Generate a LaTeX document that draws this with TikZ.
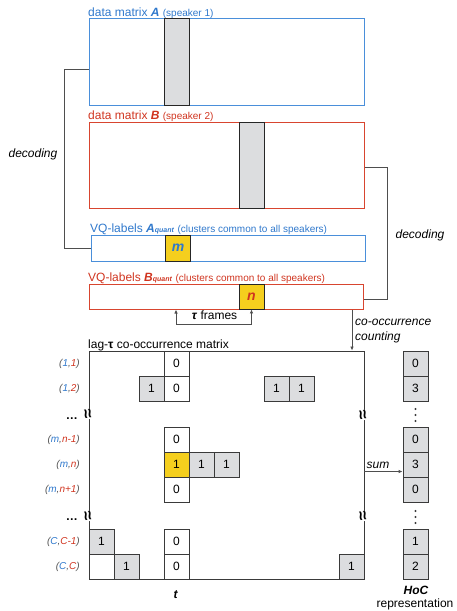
\documentclass[tikz,border=0pt]{standalone}
\usepackage{fontspec}
\setmainfont{Liberation Sans}
\usetikzlibrary{arrows.meta}
\definecolor{ablue}{HTML}{2F78CC}
\definecolor{bred}{HTML}{D0341F}
\definecolor{aframe}{HTML}{4A8FDA}
\definecolor{bframe}{HTML}{D8452F}
\definecolor{cgray}{HTML}{DCDDDF}
\definecolor{qyel}{HTML}{F5CF1E}
\definecolor{lblgray}{HTML}{555555}
\definecolor{lncol}{HTML}{3A3A3A}
\newcommand{\fs}[1]{\fontsize{#1}{#1}\selectfont}
\newcommand{\rl}[2]{\textit{(\textcolor{ablue}{#1},\textcolor{bred}{#2})}}
\begin{document}
\begin{tikzpicture}[x=1pt,y=-1pt,
  cell/.style={draw=lncol, line width=0.8pt, minimum width=25pt, minimum height=25pt, inner sep=0pt, font=\fs{12}},
  gcell/.style={cell, fill=cgray},
  ycell/.style={cell, fill=qyel},
  hcell/.style={gcell},
  col/.style={draw=black!85, line width=0.8pt, fill=cgray, minimum width=25pt, inner sep=0pt},
  conn/.style={draw=lncol!90, line width=0.8pt},
  arr/.style={conn, -{Latex[length=4pt,width=3.5pt]}},
  rowlbl/.style={anchor=east, text=lblgray, font=\fs{10}, inner sep=0pt},
  brk/.style={fill=white, inner sep=0.3pt, rotate=100, font=\fs{17}\bfseries},
  lbl/.style={anchor=base west, inner sep=0pt, font=\fs{12}}
]
\useasboundingbox (0,0) rectangle (456,611);

% data matrix A
\node[draw=aframe, line width=1pt, minimum width=275pt, minimum height=87pt, inner sep=0pt] (A) at (226.5,61.5) {};
\node[col, minimum height=87pt] (Acol) at (176.5,61.5) {};
\node[lbl, text=ablue] (Alab) at (88,16) {data matrix \textbf{\textit{A}} {\fs{10}(speaker 1)}};

% data matrix B
\node[draw=bframe, line width=1pt, minimum width=275pt, minimum height=86pt, inner sep=0pt] (B) at (226.5,165) {};
\node[col, minimum height=86pt] (Bcol) at (251.5,165) {};
\node[lbl, text=bred] (Blab) at (88,119.5) {data matrix \textbf{\textit{B}} {\fs{10}(speaker 2)}};

% VQ labels A
\node[draw=aframe, line width=1pt, minimum width=274pt, minimum height=26pt, inner sep=0pt] (Aq) at (228,248) {};
\node[draw=black!85, line width=0.8pt, fill=qyel, minimum width=25pt, minimum height=26pt, inner sep=0pt, text=ablue, font=\fs{14}\bfseries\itshape] (Aqm) at (178,248) {m};
\node[lbl, text=ablue] (Aqlab) at (90,232.5) {VQ-labels \textbf{\textit{A}}{\fs{7}\textbf{\textit{quant}}} {\fs{10}(clusters common to all speakers)}};

% VQ labels B
\node[draw=bframe, line width=1pt, minimum width=274pt, minimum height=25pt, inner sep=0pt] (Bq) at (226,296.5) {};
\node[draw=black!85, line width=0.8pt, fill=qyel, minimum width=25pt, minimum height=25pt, inner sep=0pt, text=bred, font=\fs{14}\bfseries\itshape] (Bqn) at (251.5,296.5) {n};
\node[lbl, text=bred] (Bqlab) at (88,281) {VQ-labels \textbf{\textit{B}}{\fs{7}\textbf{\textit{quant}}} {\fs{10}(clusters common to all speakers)}};

% decoding connectors
\draw[conn] ([yshift=-7.5pt]A.west) -- ++(-24,0) |- (Aq.west);
\node[anchor=base, inner sep=0pt, font=\fs{12}\itshape] (decL) at (33,157) {decoding};
\draw[conn] ([yshift=-2pt]B.east) -- ++(23,0) |- ([yshift=-2.5pt]Bq.east);
\node[anchor=base, inner sep=0pt, font=\fs{12}\itshape] (decR) at (420,238) {decoding};

% tau frames
\coordinate (tauL) at (Aqm.south |- Bq.south);
\draw[conn, {Latex[length=4pt,width=3.5pt]}-{Latex[length=4pt,width=3.5pt]}] ([xshift=-2pt]tauL) -- ++(0,15) -| (Bqn.south);
\node[anchor=base, inner sep=0pt, font=\fs{12}] (taulab) at (214.5,319) {\textbf{\textit{τ}} frames};

% co-occurrence matrix
\node[draw=lncol, line width=0.9pt, minimum width=275pt, minimum height=228pt, inner sep=0pt] (M) at (226.5,465) {};
\node[lbl] (Mlab) at (88,348) {lag-\textbf{τ} co-occurrence matrix};

\coordinate (cc) at (352,0);
\draw[arr] (Bq.south -| cc) -- (M.north -| cc);
\node[lbl, font=\fs{12}\itshape] (cclab1) at (355,325) {co-occurrence};
\node[lbl, font=\fs{12}\itshape] (cclab2) at (355,340) {counting};

% cells
\node[cell] (r1t) at (176.5,363.5) {0};
\node[cell] (r2t) at (176.5,388.5) {0};
\node[gcell] (r2a) at (151.5,388.5) {1};
\node[gcell] (r2b) at (276.5,388.5) {1};
\node[gcell] (r2c) at (301.5,388.5) {1};
\node[cell] (r3t) at (176.5,439.5) {0};
\node[ycell] (r4t) at (176.5,464.5) {1};
\node[gcell] (r4a) at (201.5,464.5) {1};
\node[gcell] (r4b) at (226.5,464.5) {1};
\node[cell] (r5t) at (176.5,489.5) {0};
\node[gcell] (r6a) at (101.5,541.5) {1};
\node[cell] (r6t) at (176.5,541.5) {0};
\node[gcell] (r7a) at (126.5,566.5) {1};
\node[cell] (r7t) at (176.5,566.5) {0};
\node[gcell] (r7b) at (351.5,566.5) {1};

% row labels
\node[rowlbl] (l1) at (80,363.5) {\rl{1}{1}};
\node[rowlbl] (l2) at (80,388.5) {\rl{1}{2}};
\node[rowlbl] (l3) at (80,439.5) {\rl{m}{n-1}};
\node[rowlbl] (l4) at (80,464.5) {\rl{m}{n}};
\node[rowlbl] (l5) at (80,489.5) {\rl{m}{n+1}};
\node[rowlbl] (l6) at (80,541.5) {\rl{C}{C-1}};
\node[rowlbl] (l7) at (80,566.5) {\rl{C}{C}};
\node[anchor=base east, inner sep=0pt, font=\fs{12}\bfseries] (e1) at (78,419) {…};
\node[anchor=base east, inner sep=0pt, font=\fs{12}\bfseries] (e2) at (78,520) {…};

% break marks
\node[brk] (b1) at (89,414) {≈};
\node[brk] (b2) at (89,516) {≈};
\node[brk] (b3) at (364,415) {≈};
\node[brk] (b4) at (364,516) {≈};

% HoC column
\node[hcell] (h1) at (415.5,363.5) {0};
\node[hcell] (h2) at (415.5,388.5) {3};
\node[hcell] (h3) at (415.5,439.5) {0};
\node[hcell] (h4) at (415.5,464.5) {3};
\node[hcell] (h5) at (415.5,489.5) {0};
\node[hcell] (h6) at (415.5,541.5) {1};
\node[hcell] (h7) at (415.5,566.5) {2};
\foreach \yy in {409,415,421} \fill[lncol] (415.5,\yy) circle (1.1pt);
\foreach \yy in {511,517,523} \fill[lncol] (415.5,\yy) circle (1.1pt);

% sum arrow
\coordinate (sumE) at ([yshift=-7pt]h4.west);
\draw[arr] (M.east |- sumE) -- (sumE);
\node[anchor=base, inner sep=0pt, font=\fs{12}\itshape] (sumlab) at (378,468) {sum};

% bottom labels
\node[anchor=base, inner sep=0pt, font=\fs{12}\bfseries\itshape] (tlab) at (175.5,598) {t};
\node[anchor=base, inner sep=0pt, font=\fs{12}\bfseries\itshape] (hoclab) at (416,594) {HoC};
\node[anchor=base, inner sep=0pt, font=\fs{12}] (replab) at (415,607) {representation};
\end{tikzpicture}
\end{document}
